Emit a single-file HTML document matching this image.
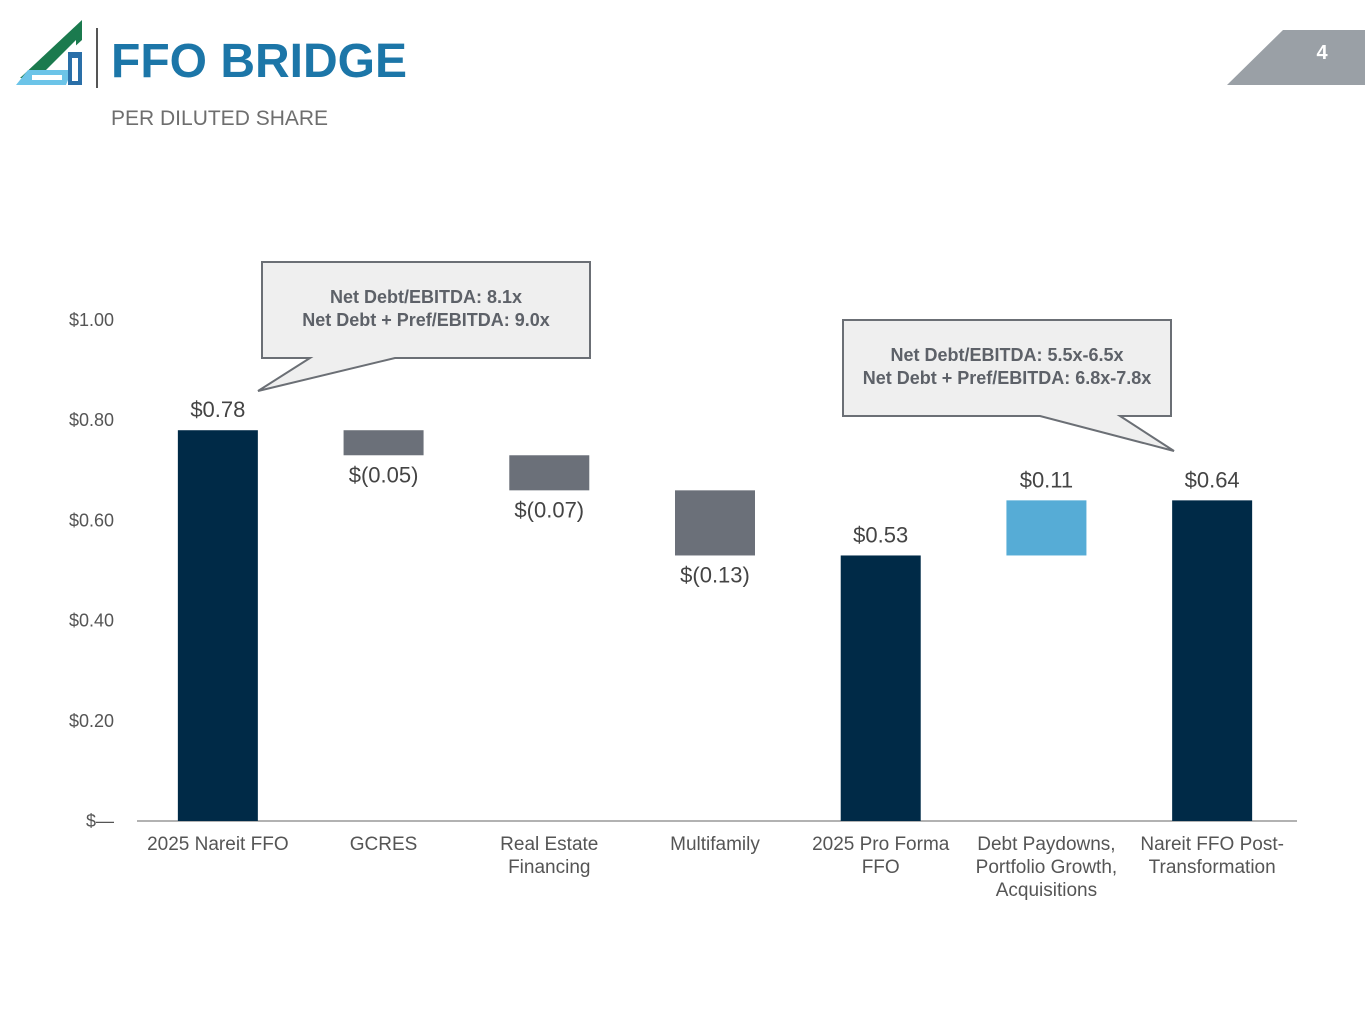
<!DOCTYPE html>
<html><head><meta charset="utf-8"><style>
body{margin:0;width:1365px;height:1024px;background:#fff;font-family:"Liberation Sans",sans-serif;overflow:hidden;position:relative}
</style></head><body>
<svg width="1365" height="1024" style="position:absolute;left:0;top:0">
<g>
<polygon points="20,78 82,20 82,40 40,78" fill="#1b7a4e"/>
<polygon points="46,70 76,40 76,48 54,70" fill="#fff"/>
<polygon points="16,85 28,70 72,70 66,85" fill="#6cc4e8"/>
<rect x="32" y="75" width="30" height="5" fill="#fff"/>
<rect x="68" y="52" width="14" height="33" fill="#2a6fa8"/>
<rect x="72" y="58" width="6" height="23" fill="#fff"/>
</g>
<line x1="97" y1="28" x2="97" y2="88" stroke="#555" stroke-width="2"/>
<text x="111" y="77" font-size="48" font-weight="bold" fill="#1c76a8">FFO BRIDGE</text>
<text x="111" y="125" font-size="21" fill="#6e6e6e">PER DILUTED SHARE</text>
<polygon points="1283,30 1365,30 1365,85 1227,85" fill="#9aa0a6"/>
<text x="1322" y="59" font-size="20" font-weight="bold" fill="#fff" text-anchor="middle">4</text>
<g id="chart"></g>
<g>
<polygon points="262,262 590,262 590,358 395,358 258,391 310,358 262,358" fill="#efefef" stroke="#6b6f75" stroke-width="2"/>
<text x="426" y="303" font-size="18" font-weight="bold" fill="#5d6168" text-anchor="middle">Net Debt/EBITDA: 8.1x</text>
<text x="426" y="326" font-size="18" font-weight="bold" fill="#5d6168" text-anchor="middle">Net Debt + Pref/EBITDA: 9.0x</text>
</g>
<g>
<polygon points="843,320 1171,320 1171,416 1120,416 1174,451 1040,416 843,416" fill="#efefef" stroke="#6b6f75" stroke-width="2"/>
<text x="1007" y="361" font-size="18" font-weight="bold" fill="#5d6168" text-anchor="middle">Net Debt/EBITDA: 5.5x-6.5x</text>
<text x="1007" y="384" font-size="18" font-weight="bold" fill="#5d6168" text-anchor="middle">Net Debt + Pref/EBITDA: 6.8x-7.8x</text>
</g>
</svg>
<script>
const categories=[["2025 Nareit FFO"],["GCRES"],["Real Estate","Financing"],["Multifamily"],["2025 Pro Forma","FFO"],["Debt Paydowns,","Portfolio Growth,","Acquisitions"],["Nareit FFO Post-","Transformation"]];
const starts=[0,0.78,0.73,0.66,0,0.53,0];
const ends=[0.78,0.73,0.66,0.53,0.53,0.64,0.64];
const kinds=["total","neg","neg","neg","total","pos","total"];
const valueLabels=["$0.78","$(0.05)","$(0.07)","$(0.13)","$0.53","$0.11","$0.64"];
const tickValues=[0,0.2,0.4,0.6,0.8,1.0];
const tickLabels=["$—","$0.20","$0.40","$0.60","$0.80","$1.00"];
const NS="http://www.w3.org/2000/svg";
const g=document.getElementById('chart');
const x0=135,x1=1295,band=(x1-x0)/categories.length;
const y=v=>821-v*501;
const xc=i=>x0+band*(i+0.5);
const colors={total:"#002a47",neg:"#6b7079",pos:"#56acd6"};
function el(t,a,txt){const e=document.createElementNS(NS,t);for(const k in a)e.setAttribute(k,a[k]);if(txt!=null)e.textContent=txt;g.appendChild(e);return e;}
tickValues.forEach((v,i)=>{
const t=el('text',{x:114,y:y(v)+6,'font-size':18,fill:'#555','text-anchor':'end'},tickLabels[i]);


});
const ax=el('line',{x1:137,x2:1297,y1:821,y2:821,stroke:'#999','stroke-width':1.5});


categories.forEach((c,i)=>{
const top=Math.max(starts[i],ends[i]),bot=Math.min(starts[i],ends[i]);
const r=el('rect',{x:xc(i)-40,y:y(top),width:80,height:y(bot)-y(top),fill:colors[kinds[i]]});


const ly=kinds[i]=="neg"?y(bot)+27:y(top)-13;
const l=el('text',{x:xc(i),y:ly,'font-size':22,fill:'#444','text-anchor':'middle'},valueLabels[i]);


c.forEach((line,j)=>{
const t=el('text',{x:xc(i),y:850+j*23,'font-size':19,fill:'#555','text-anchor':'middle'},line);


});
});
</script>
</body></html>
